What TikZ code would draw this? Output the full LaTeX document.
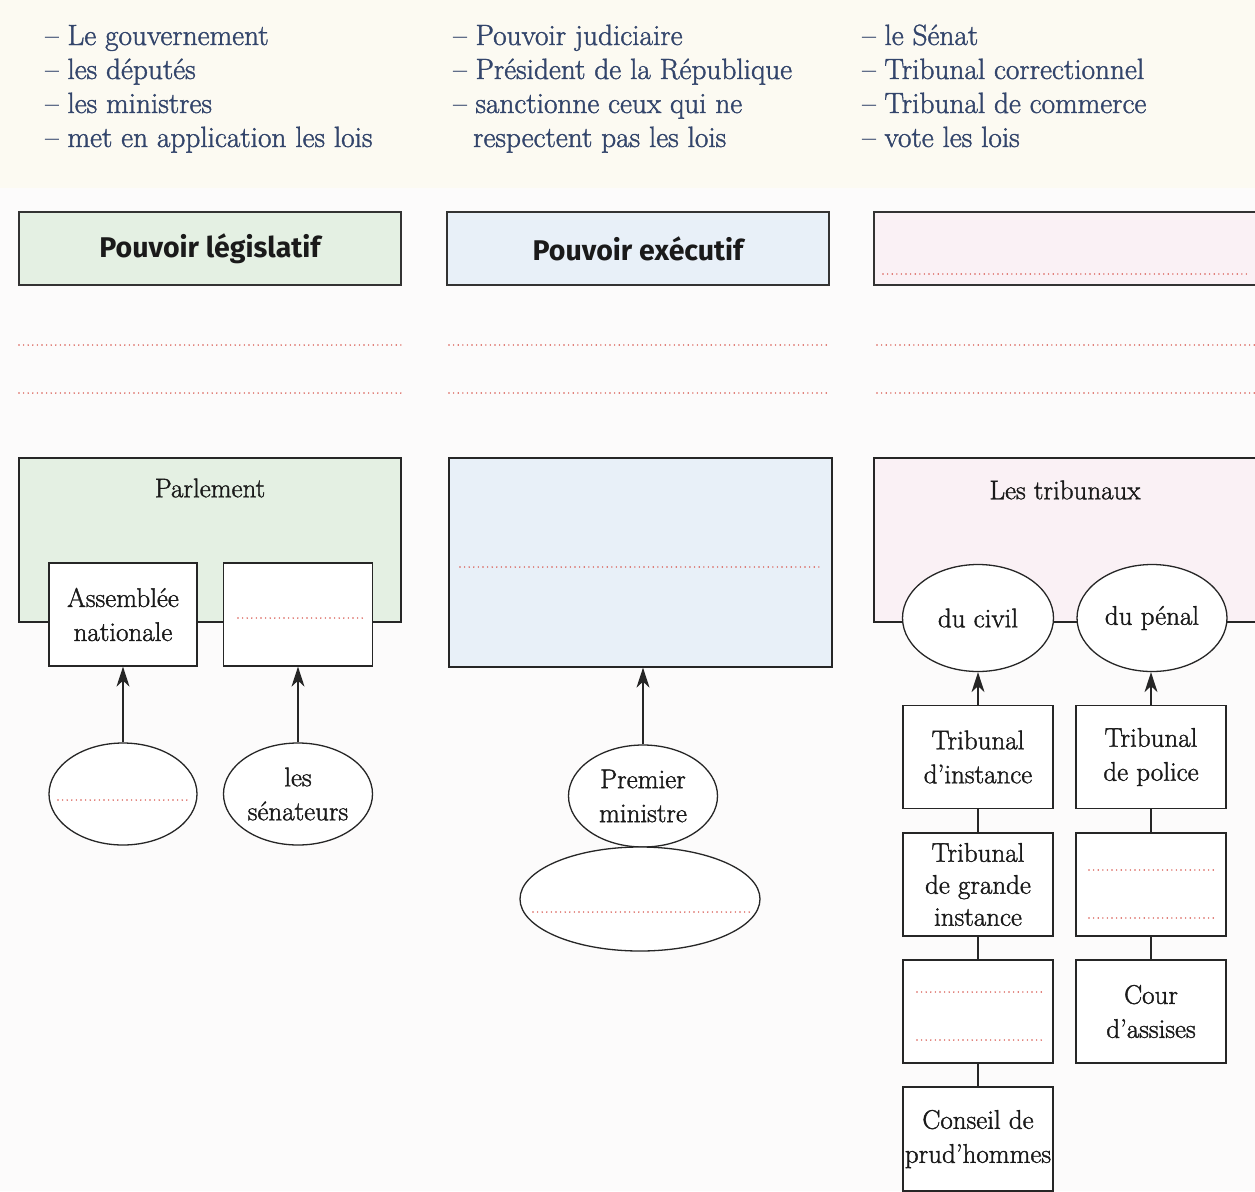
\documentclass[tikz,border=0pt]{standalone}
\usepackage{fontspec}
\newfontfamily\headfont{Fira Sans}
\newfontfamily\bodyfont{Latin Modern Roman}[FakeBold=1.4]
\usetikzlibrary{shapes.geometric,arrows.meta}
\definecolor{txt}{HTML}{1A1A1A}
\definecolor{toptxt}{HTML}{33456B}
\definecolor{gfill}{HTML}{E4F0E3}
\definecolor{bfill}{HTML}{E8F0F8}
\definecolor{pfill}{HTML}{FAF1F5}
\definecolor{dotred}{HTML}{D8574E}
\definecolor{pagebg}{HTML}{FCFBFB}
\definecolor{topbg}{HTML}{FCFAF2}
\begin{document}
\begin{tikzpicture}[x=1pt,y=-1pt,
  every node/.style={font=\bodyfont\fontsize{27}{34}\selectfont, text=txt},
  toptext/.style={anchor=base west, inner sep=0pt, text=toptxt, font=\bodyfont\fontsize{29.3}{34}\selectfont},
  headbox/.style={draw=black!80, line width=1.8pt, inner sep=0pt, minimum height=73pt,
     font=\headfont\bfseries\fontsize{28.5}{32}\selectfont},
  bigbox/.style={draw=black!85, line width=1.3pt, inner sep=0pt},
  smallbox/.style={draw=black!85, line width=1.3pt, fill=white, inner sep=0pt, align=center,
     minimum width=150pt, minimum height=103pt},
  ell/.style={ellipse, draw=black!85, line width=1.3pt, fill=white, inner sep=0pt, align=center},
  dotline/.style={dotred, line width=1.6pt, line cap=round, dash pattern=on 0pt off 4.6pt},
  arr/.style={-{Stealth[length=20pt,width=13pt,inset=6pt]}, line width=1.3pt, draw=black!85},
  link/.style={line width=1.3pt, draw=black!85}]
\useasboundingbox (0,0) rectangle (1255,1191);
\clip (0,0) rectangle (1255,1191);
\fill[pagebg] (0,0) rectangle (1255,1191);
\fill[topbg] (0,0) rectangle (1255,188);

% ---- top lists
\node[toptext] (a1) at (45,45) {– Le gouvernement};
\node[toptext] (a2) at (45,79) {– les députés};
\node[toptext] (a3) at (45,113) {– les ministres};
\node[toptext] (a4) at (45,147) {– met en application les lois};
\node[toptext] (b1) at (453,45) {– Pouvoir judiciaire};
\node[toptext] (b2) at (453,79) {– Président de la République};
\node[toptext] (b3) at (453,113) {– sanctionne ceux qui ne};
\node[toptext] (b4) at (473,147) {respectent pas les lois};
\node[toptext] (c1) at (862,45) {– le Sénat};
\node[toptext] (c2) at (862,79) {– Tribunal correctionnel};
\node[toptext] (c3) at (862,113) {– Tribunal de commerce};
\node[toptext] (c4) at (862,147) {– vote les lois};

% ---- header boxes
\node[headbox, fill=gfill, minimum width=382pt] (hleg) at (210,248.5) {Pouvoir législatif};
\node[headbox, fill=bfill, minimum width=382pt] (hexe) at (638,248.5) {Pouvoir exécutif};
\node[headbox, fill=pfill, minimum width=400pt] (hjud) at (1074,248.5) {};
\draw[dotline] (883,274) -- (1247,274);

% ---- dotted answer lines
\draw[dotline] (19,345) -- (401,345);
\draw[dotline] (19,393) -- (401,393);
\draw[dotline] (449,345) -- (829,345);
\draw[dotline] (449,393) -- (829,393);
\draw[dotline] (877,345) -- (1255,345);
\draw[dotline] (877,393) -- (1255,393);

% ---- legislative
\node[bigbox, fill=gfill, minimum width=382pt, minimum height=164pt] (parl) at (210,540) {};
\node (parlt) at (210,488) {Parlement};
\node[smallbox, minimum width=148pt] (an) at (123,614.5) {Assemblée\\nationale};
\node[smallbox, minimum width=149pt] (sen) at (298,614.5) {};
\draw[dotline] (238,618) -- (363,618);
\node[ell, minimum width=148pt, minimum height=102pt] (dep) at (123,794) {};
\draw[dotline] (58,800) -- (188,800);
\node[ell, minimum width=149pt, minimum height=102pt] (sna) at (298,794) {les\\sénateurs};
\draw[arr] (dep) -- (an);
\draw[arr] (sna) -- (sen);

% ---- executive
\node[bigbox, fill=bfill, minimum width=383pt, minimum height=209pt] (gov) at (640.5,562.5) {};
\draw[dotline] (460,567) -- (822,567);
\node[ell, minimum width=149pt, minimum height=102pt] (pm) at (643,796) {Premier\\ministre};
\node[ell, minimum width=240pt, minimum height=104pt] (pr) at (640,899) {};
\draw[dotline] (533,912) -- (752,912);
\draw[arr] (pm.north) -- (pm.north |- gov.south);

% ---- judicial
\node[bigbox, fill=pfill, minimum width=400pt, minimum height=164pt] (trib) at (1074,540) {};
\node (tribt) at (1065,490) {Les tribunaux};
\node[ell, minimum width=151pt, minimum height=107pt] (civ) at (978,618) {du civil};
\node[ell, minimum width=150pt, minimum height=107pt] (pen) at (1152,618) {du pénal};

\node[smallbox] (ti) at (978,757) {Tribunal\\d’instance};
\node[smallbox, font=\bodyfont\fontsize{27}{32}\selectfont] (tgi) at (978,884.5) {Tribunal\\de grande\\instance};
\node[smallbox] (tx) at (978,1011.5) {};
\draw[dotline] (917,992) -- (1043,992);
\draw[dotline] (917,1040) -- (1043,1040);
\node[smallbox, minimum height=104pt] (cph) at (978,1139) {Conseil de\\prud’hommes};

\node[smallbox] (tp) at (1151,757) {Tribunal\\de police};
\node[smallbox] (tc) at (1151,884.5) {};
\draw[dotline] (1089,870) -- (1215,870);
\draw[dotline] (1089,918) -- (1215,918);
\node[smallbox] (ca) at (1151,1011.5) {Cour\\d’assises};

\draw[arr] (ti) -- (civ);
\draw[arr] (tp) -- (tp |- pen.south);
\draw[link] (ti) -- (tgi);
\draw[link] (tgi) -- (tx);
\draw[link] (tx) -- (cph);
\draw[link] (tp) -- (tc);
\draw[link] (tc) -- (ca);
\end{tikzpicture}
\end{document}
